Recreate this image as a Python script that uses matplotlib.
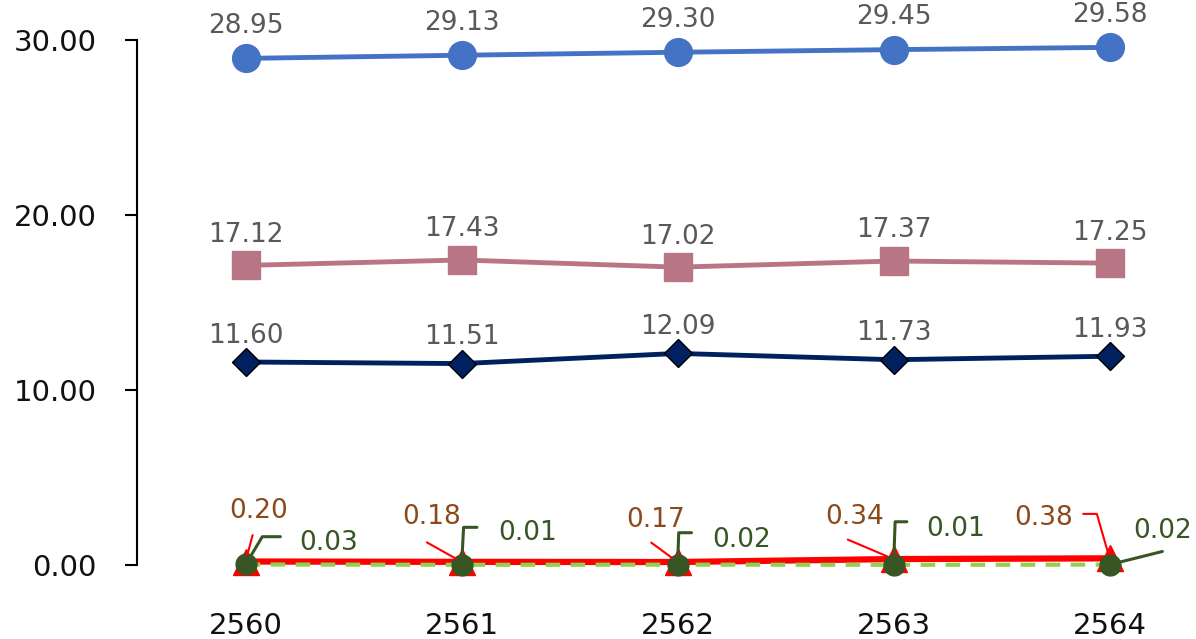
import numpy as np
import matplotlib.pyplot as plt

years = ['2560', '2561', '2562', '2563', '2564']
s_blue = [28.95, 29.13, 29.30, 29.45, 29.58]
s_pink = [17.12, 17.43, 17.02, 17.37, 17.25]
s_navy = [11.60, 11.51, 12.09, 11.73, 11.93]
s_red = [0.20, 0.18, 0.17, 0.34, 0.38]
s_green = [0.03, 0.01, 0.02, 0.01, 0.02]

plt.rcParams['font.family'] = 'DejaVu Sans'

fig = plt.figure(figsize=(11.96, 6.39), dpi=100)
ax = fig.add_axes([137 / 1196, 74 / 639, 1 - 137 / 1196, 525 / 639])
x = np.arange(len(years))

ax.plot(x, s_blue, color='#4472C4', lw=3.5, marker='o', ms=20, clip_on=False, zorder=3)
ax.plot(x, s_pink, color='#B87584', lw=3.5, marker='s', ms=20, clip_on=False, zorder=3)
ax.plot(x, s_navy, color='#002060', lw=3.5, marker='D', ms=14, mec='black', mew=1,
        clip_on=False, zorder=3)
ax.plot(x, s_red, color='#FF0000', lw=4.5, marker='^', ms=19, clip_on=False, zorder=4)
ax.plot(x, s_green, color='#92D050', lw=3, ls=(0, (3.5, 2.5)), marker='o', ms=15,
        mfc='#375623', mec='#375623', clip_on=False, zorder=5)

gray = '#595959'
for series, dy in [(s_blue, 23.5), (s_pink, 22), (s_navy, 19)]:
    for i, v in enumerate(series):
        ax.annotate(f'{v:.2f}', (i, v), xytext=(0, dy), textcoords='offset points',
                    ha='center', va='center', fontsize=19, color=gray)

# red labels with leader lines
brown = '#8C4A1C'
red_text = [(9.5, 36), (-21.5, 32), (-16, 30), (-28, 30), (-47.5, 29)]
red_lead = [(5, 19), (-25, 14), (-19, 14), (-33, 14), (-19, 32)]
for i, v in enumerate(s_red):
    ax.annotate(f'{v:.2f}', (i, v), xytext=red_text[i], textcoords='offset points',
                ha='center', va='center', fontsize=19, color=brown, zorder=6)
    cs = 'arc3'
    if i == 4:
        cs = 'angle,angleA=0,angleB=106,rad=0'
    ax.annotate('', (i, v), xytext=red_lead[i], textcoords='offset points',
                arrowprops=dict(arrowstyle='-', color='#FF0000', lw=1.5,
                                shrinkA=0, shrinkB=5, connectionstyle=cs), zorder=6)

# green labels with leader lines
green = '#375623'
green_text = [(60, 15.5), (47.5, 23), (46, 18), (45, 26), (38, 24)]
green_lead = [(25, 20), (11, 27), (10, 23), (9.5, 31), (38, 9.5)]
green_angle = [59, 87, 88, 88, None]
for i, v in enumerate(s_green):
    ax.annotate(f'{v:.2f}', (i, v), xytext=green_text[i], textcoords='offset points',
                ha='center', va='center', fontsize=19, color=green, zorder=6)
    if green_angle[i] is None:
        cs = 'arc3'
    else:
        cs = f'angle,angleA=0,angleB={green_angle[i]},rad=0'
    ax.annotate('', (i, v), xytext=green_lead[i], textcoords='offset points',
                arrowprops=dict(arrowstyle='-', color=green, lw=2.2,
                                shrinkA=0, shrinkB=0, connectionstyle=cs), zorder=6)

ax.set_xlim(-0.503, 4.40)
ax.set_ylim(0, 30)
ax.set_yticks([0, 10, 20, 30])
ax.set_yticklabels([f'{t:.2f}' for t in [0, 10, 20, 30]])
ax.set_xticks(x)
ax.set_xticklabels(years)
for s in ['top', 'right', 'bottom']:
    ax.spines[s].set_visible(False)
ax.spines['left'].set_linewidth(1.5)
ax.tick_params(axis='y', length=9, width=1.5, pad=20, labelsize=21, labelcolor='#111111')
ax.tick_params(axis='x', length=0, pad=34, labelsize=21, labelcolor='#111111')

fig.savefig('out.png', dpi=100)
